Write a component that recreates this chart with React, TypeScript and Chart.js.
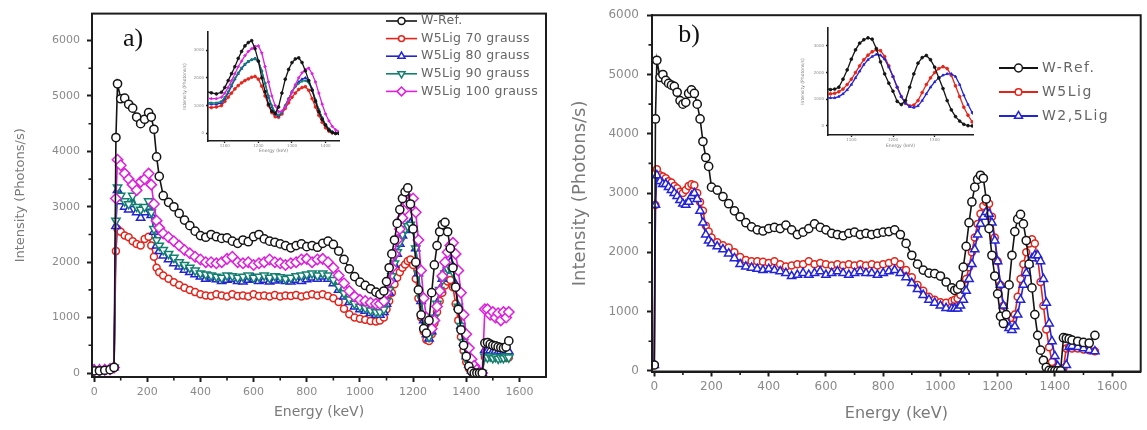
import React, { useEffect, useRef } from "react";
import { Chart, registerables } from "chart.js";
import { drawPoint } from "chart.js/helpers";

Chart.register(...registerables);

// ---------------- DATA ----------------
const X_TICKS = [0, 200, 400, 600, 800, 1000, 1200, 1400, 1600];
const X_MINOR = [100, 300, 500, 700, 900, 1100, 1300, 1500];
const Y_TICKS = [0, 1000, 2000, 3000, 4000, 5000, 6000];
const Y_MINOR = [500, 1500, 2500, 3500, 4500, 5500];
const INSET_Y_TICKS = [0, 1000, 2000, 3000];
const INSET_A_X_TICKS = [1100, 1200, 1300, 1400];
const INSET_B_X_TICKS = [1100, 1200, 1300];

const LABELS_A = ["W-Ref.", "W5Lig 70 grauss", "W5Lig 80 grauss", "W5Lig 90 grauss", "W5Lig 100 grauss"];
const LABELS_B = ["W-Ref.", "W5Lig", "W2,5Lig"];

const ENERGY_A = [0, 20, 40, 60, 75, 82, 88, 100, 115, 130, 145, 160, 175, 190, 205, 215, 225, 235, 245, 260, 280, 300, 320, 340, 360, 380, 400, 420, 440, 460, 480, 500, 520, 540, 560, 580, 600, 620, 640, 660, 680, 700, 720, 740, 760, 780, 800, 820, 840, 860, 880, 900, 920, 940, 960, 980, 1000, 1020, 1040, 1060, 1075, 1090, 1100, 1110, 1120, 1130, 1140, 1150, 1160, 1170, 1180, 1190, 1200, 1210, 1220, 1230, 1240, 1250, 1260, 1270, 1280, 1290, 1300, 1310, 1320, 1330, 1340, 1350, 1360, 1370, 1380, 1390, 1400, 1410, 1420, 1430, 1440, 1450, 1460, 1470, 1480, 1490, 1500, 1510, 1520, 1530, 1540, 1550, 1560];

const A_WREF = [40, 40, 50, 60, 100, 4250, 5220, 4950, 4960, 4850,
  4780, 4620, 4500, 4580, 4700, 4620, 4400, 3900, 3550, 3200,
  3080, 3000, 2880, 2760, 2660, 2560, 2480, 2450, 2500, 2460,
  2430, 2440, 2380, 2340, 2400, 2370, 2460, 2500, 2420, 2380,
  2360, 2330, 2300, 2260, 2300, 2330, 2280, 2300, 2270, 2340,
  2380, 2320, 2200, 2050, 1880, 1740, 1640, 1580, 1520, 1460,
  1420, 1480, 1650, 1900, 2150, 2400, 2700, 2950, 3150, 3270,
  3340, 3050, 2600, 2000, 1500, 1050, 800, 720, 950, 1450,
  1950, 2300, 2550, 2680, 2720, 2550, 2250, 1900, 1550, 1150,
  780, 500, 300, 120, 30, 0, 0, 0, 0, 540,
  550, 520, 500, 490, 470, 460, 450, 470, 580];

const A_W70 = [50, 50, 50, 60, 100, 2200, 2600, 2550, 2480, 2450,
  2380, 2330, 2300, 2420, 2460, 2300, 2100, 1900, 1820, 1760,
  1700, 1640, 1590, 1540, 1500, 1460, 1420, 1400, 1390, 1420,
  1400, 1380, 1420, 1390, 1400, 1380, 1420, 1390, 1400, 1380,
  1410, 1380, 1400, 1390, 1410, 1380, 1400, 1420, 1400, 1420,
  1390, 1350, 1280, 1160, 1060, 1000, 980, 960, 940, 930,
  950, 1000, 1150, 1300, 1450, 1600, 1720, 1820, 1900, 1960,
  2020, 2050, 1950, 1700, 1350, 1000, 750, 600, 580, 700,
  900, 1100, 1300, 1450, 1580, 1650, 1680, 1550, 1250, 950,
  650, 400, 200, 80, 20, 0, 0, 0, 0, 290,
  300, 290, 280, 290, 280, 270, 280, 270, 280];

const A_W80 = [60, 60, 60, 70, 100, 2650, 3300, 3100, 3000, 2950,
  3050, 2900, 2800, 2900, 3000, 2850, 2550, 2300, 2200, 2120,
  2050, 1980, 1920, 1860, 1820, 1780, 1740, 1700, 1720, 1690,
  1660, 1680, 1700, 1660, 1650, 1680, 1700, 1660, 1680, 1650,
  1670, 1690, 1660, 1650, 1680, 1660, 1690, 1720, 1700, 1740,
  1700, 1620, 1500, 1380, 1280, 1200, 1150, 1120, 1080, 1050,
  1050, 1100, 1250, 1450, 1700, 1950, 2150, 2330, 2480, 2580,
  2650, 2700, 2600, 2250, 1800, 1300, 950, 700, 620, 750,
  1000, 1250, 1500, 1700, 1850, 1950, 2000, 1900, 1600, 1200,
  850, 550, 300, 150, 50, 10, 0, 0, 0, 420,
  400, 410, 390, 400, 380, 390, 380, 400, 390];

const A_W90 = [60, 60, 60, 70, 100, 2750, 3350, 3200, 3100, 3050,
  3200, 3000, 2950, 3000, 3100, 2900, 2600, 2400, 2300, 2220,
  2150, 2080, 2000, 1950, 1900, 1850, 1800, 1780, 1760, 1740,
  1720, 1760, 1750, 1720, 1740, 1760, 1720, 1740, 1760, 1720,
  1750, 1730, 1700, 1720, 1750, 1760, 1780, 1800, 1760, 1800,
  1760, 1680, 1560, 1440, 1330, 1250, 1200, 1170, 1130, 1100,
  1100, 1150, 1300, 1500, 1750, 1980, 2180, 2360, 2500, 2600,
  2650, 2680, 2600, 2250, 1800, 1350, 1000, 750, 650, 760,
  1000, 1250, 1500, 1680, 1800, 1880, 1900, 1820, 1550, 1200,
  850, 560, 320, 160, 60, 10, 0, 0, 0, 300,
  280, 300, 270, 290, 260, 280, 270, 300, 280];

const A_W100 = [50, 50, 60, 70, 100, 3150, 3850, 3750, 3600, 3500,
  3400, 3300, 3450, 3500, 3600, 3400, 3050, 2750, 2620, 2520,
  2450, 2380, 2300, 2220, 2160, 2100, 2050, 2000, 2000, 1980,
  2000, 2060, 2100, 2000, 1980, 2000, 1950, 1980, 2000, 2050,
  2000, 1980, 1950, 1980, 2000, 2050, 2060, 2000, 2050, 2060,
  2000, 1900, 1760, 1620, 1480, 1380, 1320, 1300, 1270, 1250,
  1250, 1300, 1450, 1650, 1900, 2150, 2400, 2600, 2800, 2950,
  3050, 3130, 3150, 2900, 2400, 1850, 1350, 1000, 780, 800,
  950, 1200, 1480, 1750, 2000, 2180, 2300, 2350, 2150, 1850,
  1450, 1050, 700, 450, 250, 130, 60, 20, 0, 1150,
  1150, 1050, 1100, 1000, 1080, 950, 1100, 1000, 1100];

const ENERGY_B = [0, 4, 9, 20, 30, 40, 50, 60, 70, 80, 90, 100, 110, 120, 130, 140, 150, 160, 170, 180, 190, 200, 220, 240, 260, 280, 300, 320, 340, 360, 380, 400, 420, 440, 460, 480, 500, 520, 540, 560, 580, 600, 620, 640, 660, 680, 700, 720, 740, 760, 780, 800, 820, 840, 860, 880, 900, 920, 940, 960, 980, 1000, 1020, 1040, 1050, 1060, 1070, 1080, 1090, 1100, 1110, 1120, 1130, 1140, 1150, 1160, 1170, 1180, 1190, 1200, 1210, 1220, 1230, 1240, 1250, 1260, 1270, 1280, 1290, 1300, 1310, 1320, 1330, 1340, 1350, 1360, 1370, 1380, 1390, 1400, 1410, 1420, 1430, 1440, 1450, 1460, 1480, 1500, 1520, 1540];

const B_WREF = [100, 4250, 5240, 4950, 5000, 4900, 4850, 4820, 4800, 4700,
  4560, 4500, 4530, 4680, 4740, 4680, 4500, 4250, 3870, 3600,
  3450, 3100, 3050, 2940, 2820, 2700, 2600, 2500, 2430, 2380,
  2360, 2400, 2420, 2400, 2460, 2380, 2300, 2340, 2400, 2480,
  2420, 2380, 2320, 2300, 2280, 2320, 2340, 2300, 2320, 2300,
  2320, 2340, 2350, 2380, 2300, 2150, 1950, 1800, 1700, 1650,
  1640, 1600, 1500, 1400, 1360, 1380, 1450, 1750, 2100, 2500,
  2850, 3100, 3230, 3300, 3250, 2900, 2400, 1950, 1600, 1300,
  920, 800, 950, 1450, 1950, 2350, 2560, 2640, 2480, 2200,
  1800, 1400, 950, 600, 350, 180, 60, 10, 0, 0,
  0, 0, 560, 550, 540, 520, 500, 480, 470, 600];

const B_W5LIG = [100, 2800, 3400, 3300, 3280, 3250, 3200, 3180, 3120, 3080,
  3020, 3000, 3050, 3120, 3150, 3130, 3000, 2850, 2700, 2450,
  2350, 2250, 2170, 2120, 2080, 2000, 1920, 1870, 1850, 1850,
  1840, 1820, 1850, 1800, 1760, 1780, 1800, 1800, 1850, 1800,
  1820, 1800, 1780, 1800, 1780, 1800, 1780, 1800, 1780, 1800,
  1780, 1800, 1820, 1850, 1800, 1700, 1580, 1450, 1350, 1250,
  1200, 1160, 1150, 1180, 1200, 1220, 1280, 1380, 1550, 1750,
  2000, 2250, 2480, 2650, 2780, 2850, 2820, 2600, 2250, 1850,
  1450, 1100, 850, 750, 780, 950, 1250, 1550, 1800, 2000,
  2150, 2220, 2150, 1900, 1500, 1100, 700, 400, 150, 30,
  0, 0, 50, 380, 400, 380, 380, 360, 350, 330];

const B_W25LIG = [100, 2800, 3300, 3200, 3150, 3150, 3100, 3050, 3000, 2950,
  2880, 2820, 2800, 2850, 2950, 3000, 2900, 2700, 2500, 2300,
  2200, 2150, 2100, 2050, 1980, 1900, 1800, 1760, 1740, 1720,
  1700, 1720, 1700, 1680, 1650, 1600, 1620, 1650, 1620, 1650,
  1680, 1620, 1650, 1680, 1650, 1620, 1650, 1680, 1650, 1650,
  1620, 1650, 1680, 1700, 1650, 1580, 1480, 1380, 1280, 1200,
  1150, 1100, 1060, 1050, 1050, 1050, 1100, 1200, 1350, 1550,
  1800, 2050, 2300, 2480, 2600, 2680, 2650, 2500, 2200, 1850,
  1450, 1100, 850, 720, 690, 750, 950, 1200, 1450, 1650,
  1800, 1900, 1950, 1950, 1850, 1550, 1150, 800, 500, 250,
  80, 0, 0, 100, 400, 420, 400, 380, 350, 330];

// ---------------- STYLES ----------------
const FONT = "'DejaVu Sans', 'Liberation Sans', sans-serif";
const AXIS = "#1c1c1c";
const TICK_TXT = "#8a8a8a";
const TITLE_TXT = "#7a7a7a";

const STYLE_A = [
  { color: "#141414", shape: "circle", rotation: 0, radius: 4.1, order: 0 },
  { color: "#e3241b", shape: "circle", rotation: 0, radius: 3.5, order: 4 },
  { color: "#2323d2", shape: "triangle", rotation: 0, radius: 4.8, order: 3 },
  { color: "#12806f", shape: "triangle", rotation: 180, radius: 4.8, order: 2 },
  { color: "#de1fdc", shape: "rectRot", rotation: 0, radius: 5.2, order: 1 },
];
const STYLE_B = [
  { color: "#141414", shape: "circle", rotation: 0, radius: 4.1, order: 0 },
  { color: "#e3241b", shape: "circle", rotation: 0, radius: 3.5, order: 2 },
  { color: "#2323d8", shape: "triangle", rotation: 0, radius: 4.8, order: 1 },
];

function makeDatasets(energy: number[], series: number[][], labels: string[], styles: any[], inset: boolean) {
  return series.map((ys, k) => {
    const s = styles[k];
    return {
      label: labels[k],
      data: energy.map((x, i) => ({ x, y: ys[i] })),
      borderColor: s.color,
      backgroundColor: s.color,
      borderWidth: inset ? 1.3 : 1.6,
      pointStyle: s.shape,
      pointRotation: s.rotation,
      pointRadius: inset ? 1.4 : s.radius,
      pointBorderWidth: inset ? 0.8 : 1.5,
      pointBorderColor: s.color,
      pointBackgroundColor: inset ? s.color : "#ffffff",
      order: s.order,
      tension: 0,
    };
  });
}

// ---------------- PLUGINS ----------------
const framePlugin = {
  id: "frame",
  afterDraw(chart: any, _a: any, o: any) {
    if (!o || !o.show) return;
    const { ctx, chartArea: a } = chart;
    ctx.save();
    ctx.strokeStyle = AXIS;
    ctx.lineWidth = 2;
    ctx.strokeRect(a.left, a.top, a.right - a.left, a.bottom - a.top);
    ctx.restore();
  },
};

const minorTicksPlugin = {
  id: "minorTicks",
  afterDraw(chart: any, _a: any, o: any) {
    if (!o || !o.show) return;
    const { ctx, chartArea: a } = chart;
    const xs = chart.scales.x;
    const ys = chart.scales.y;
    ctx.save();
    ctx.strokeStyle = AXIS;
    ctx.lineWidth = 1.6;
    ctx.beginPath();
    X_MINOR.forEach((v) => {
      const p = xs.getPixelForValue(v);
      ctx.moveTo(p, a.bottom);
      ctx.lineTo(p, a.bottom + 3.5);
    });
    Y_MINOR.forEach((v) => {
      const p = ys.getPixelForValue(v);
      if (p < a.top || p > a.bottom) return;
      ctx.moveTo(a.left, p);
      ctx.lineTo(a.left - 3.5, p);
    });
    ctx.stroke();
    ctx.restore();
  },
};

const legendPlugin = {
  id: "originLegend",
  afterDraw(chart: any, _a: any, o: any) {
    if (!o || !o.show) return;
    const ctx = chart.ctx;
    ctx.save();
    chart.data.datasets.forEach((ds: any, i: number) => {
      const y = o.y + i * o.dy;
      ctx.strokeStyle = ds.borderColor;
      ctx.lineWidth = o.lineWidth;
      ctx.beginPath();
      ctx.moveTo(o.x, y);
      ctx.lineTo(o.x + o.len, y);
      ctx.stroke();
      ctx.fillStyle = "#ffffff";
      ctx.strokeStyle = ds.borderColor;
      ctx.lineWidth = 1.5;
      drawPoint(ctx, { pointStyle: ds.pointStyle, rotation: ds.pointRotation, radius: ds.pointRadius * o.scale, borderWidth: 1.5 } as any, o.x + o.len / 2, y);
      ctx.fillStyle = o.color;
      ctx.font = o.font;
      ctx.textAlign = "left";
      ctx.textBaseline = "middle";
      (ctx as any).letterSpacing = o.spacing;
      ctx.fillText(ds.label, o.x + o.len + o.gap, y);
      (ctx as any).letterSpacing = "0px";
    });
    ctx.restore();
  },
};

const panelLabelPlugin = {
  id: "panelLabel",
  afterDraw(chart: any, _a: any, o: any) {
    if (!o || !o.text) return;
    const ctx = chart.ctx;
    ctx.save();
    ctx.font = o.font;
    ctx.fillStyle = "#111";
    ctx.textAlign = "center";
    ctx.textBaseline = "middle";
    ctx.fillText(o.text, o.x, o.y);
    ctx.restore();
  },
};

// ---------------- CONFIG BUILDERS ----------------
function mainConfig(p: any) {
  return {
    type: "line",
    data: { datasets: p.datasets },
    options: {
      animation: false,
      responsive: false,
      maintainAspectRatio: false,
      events: [],
      layout: { padding: { left: 0, top: p.padTop, right: p.padRight, bottom: 0 } },
      plugins: {
        legend: { display: false },
        tooltip: { enabled: false },
        frame: { show: true },
        minorTicks: { show: true },
        originLegend: p.legend,
        panelLabel: p.label,
      },
      scales: {
        x: {
          type: "linear",
          min: p.xMin,
          max: p.xMax,
          afterBuildTicks: (s: any) => { s.ticks = X_TICKS.map((v) => ({ value: v })); },
          afterFit: (s: any) => { s.height = p.xAxisH; },
          ticks: { color: TICK_TXT, font: { family: FONT, size: p.tickSize }, padding: p.xTickPad, maxRotation: 0, autoSkip: false, callback: (v: any) => String(v) },
          grid: { drawOnChartArea: false, drawTicks: true, tickLength: 5, tickWidth: 2, tickColor: AXIS },
          border: { display: true, color: AXIS, width: 2 },
          title: { display: true, text: "Energy (keV)", color: TITLE_TXT, font: { family: FONT, size: p.xTitleSize }, padding: { top: 0, bottom: p.xTitlePad } },
        },
        y: {
          type: "linear",
          min: p.yMin,
          max: p.yMax,
          afterBuildTicks: (s: any) => { s.ticks = Y_TICKS.map((v) => ({ value: v })); },
          afterFit: (s: any) => { s.width = p.yAxisW; },
          ticks: { color: TICK_TXT, font: { family: FONT, size: p.tickSize }, padding: p.yTickPad, autoSkip: false, callback: (v: any) => String(v) },
          grid: { drawOnChartArea: false, drawTicks: true, tickLength: 5, tickWidth: 2, tickColor: AXIS },
          border: { display: true, color: AXIS, width: 2 },
          title: { display: true, text: "Intensity (Photons/s)", color: TITLE_TXT, font: { family: FONT, size: p.yTitleSize }, padding: { top: p.yTitlePad, bottom: 0 } },
        },
      },
    },
    plugins: [framePlugin, minorTicksPlugin, legendPlugin, panelLabelPlugin],
  };
}

function insetConfig(p: any) {
  return {
    type: "line",
    data: { datasets: p.datasets },
    options: {
      animation: false,
      responsive: false,
      maintainAspectRatio: false,
      events: [],
      layout: { padding: { left: 0, top: p.padTop, right: p.padRight, bottom: 0 } },
      plugins: { legend: { display: false }, tooltip: { enabled: false } },
      scales: {
        x: {
          type: "linear",
          min: p.xMin,
          max: p.xMax,
          afterBuildTicks: (s: any) => { s.ticks = p.xTicks.map((v: number) => ({ value: v })); },
          afterFit: (s: any) => { s.height = p.xAxisH; },
          ticks: { color: TICK_TXT, font: { family: FONT, size: 4 }, padding: 1, maxRotation: 0, autoSkip: false, callback: (v: any) => String(v) },
          grid: { drawOnChartArea: false, drawTicks: true, tickLength: 2, tickWidth: 1.3, tickColor: AXIS },
          border: { display: true, color: AXIS, width: 1.6 },
          title: { display: true, text: "Energy (keV)", color: TITLE_TXT, font: { family: FONT, size: 4.5 }, padding: { top: 0, bottom: p.xTitlePad } },
        },
        y: {
          type: "linear",
          min: p.yMin,
          max: p.yMax,
          afterBuildTicks: (s: any) => { s.ticks = INSET_Y_TICKS.map((v) => ({ value: v })); },
          afterFit: (s: any) => { s.width = p.yAxisW; },
          ticks: { color: TICK_TXT, font: { family: FONT, size: 4 }, padding: 2, autoSkip: false, callback: (v: any) => String(v) },
          grid: { drawOnChartArea: false, drawTicks: true, tickLength: 2, tickWidth: 1.3, tickColor: AXIS },
          border: { display: true, color: AXIS, width: 1.6 },
          title: { display: true, text: "Intensity (Photons/s)", color: TITLE_TXT, font: { family: FONT, size: 4.5 }, padding: { top: p.yTitlePad, bottom: 0 } },
        },
      },
    },
  };
}

// ---------------- COMPONENTS ----------------
function ChartCanvas(props: { make: () => any; left: number; top: number; width: number; height: number }) {
  const ref = useRef<HTMLCanvasElement | null>(null);
  useEffect(() => {
    const chart = new Chart(ref.current as HTMLCanvasElement, props.make());
    return () => chart.destroy();
  }, []);
  return (
    <canvas
      ref={ref}
      width={props.width}
      height={props.height}
      style={{ position: "absolute", left: props.left, top: props.top, width: props.width, height: props.height }}
    />
  );
}

const SERIES_A = [A_WREF, A_W70, A_W80, A_W90, A_W100];
const SERIES_B = [B_WREF, B_W5LIG, B_W25LIG];

export default function App() {
  const makeA = () =>
    mainConfig({
      datasets: makeDatasets(ENERGY_A, SERIES_A, LABELS_A, STYLE_A, false),
      padTop: 11, padRight: 24, yAxisW: 92, xAxisH: 53,
      xMin: -8, xMax: 1700, yMin: -72, yMax: 6487,
      tickSize: 11, xTickPad: 4, yTickPad: 7,
      xTitleSize: 14, xTitlePad: 9, yTitleSize: 13, yTitlePad: 13,
      legend: { show: true, x: 386, y: 21, dy: 17.6, len: 31, gap: 4, lineWidth: 1.6, scale: 0.85, font: `12.5px ${FONT}`, color: "#666", spacing: "0.3px" },
      label: { text: "a)", x: 133, y: 39, font: "26px 'Liberation Serif', 'DejaVu Serif', serif" },
    });
  const makeB = () =>
    mainConfig({
      datasets: makeDatasets(ENERGY_B, SERIES_B, LABELS_B, STYLE_B, false),
      padTop: 13, padRight: 5, yAxisW: 82, xAxisH: 58.5,
      xMin: -8, xMax: 1700, yMin: -10, yMax: 6000,
      tickSize: 12, xTickPad: 3, yTickPad: 8,
      xTitleSize: 16, xTitlePad: 7, yTitleSize: 18, yTitlePad: 0,
      legend: { show: true, x: 429, y: 68, dy: 24, len: 39, gap: 4, lineWidth: 1.8, scale: 0.95, font: `14px ${FONT}`, color: "#666", spacing: "1.5px" },
      label: { text: "b)", x: 119, y: 35, font: "26px 'Liberation Serif', 'DejaVu Serif', serif" },
    });
  const makeInsetA = () =>
    insetConfig({
      datasets: makeDatasets(ENERGY_A, SERIES_A, LABELS_A, STYLE_A, true),
      padTop: 7, padRight: 11, yAxisW: 28, xAxisH: 19,
      xMin: 1050, xMax: 1440, yMin: -274, yMax: 3650, xTicks: INSET_A_X_TICKS,
      xTitlePad: 6.5, yTitlePad: 2.6,
    });
  const makeInsetB = () =>
    insetConfig({
      datasets: makeDatasets(ENERGY_B, SERIES_B, LABELS_B, STYLE_B, true),
      padTop: 8, padRight: 12, yAxisW: 33, xAxisH: 20,
      xMin: 1044, xMax: 1392, yMin: -340, yMax: 3670, xTicks: INSET_B_X_TICKS,
      xTitlePad: 6.5, yTitlePad: 5.6,
    });

  return (
    <div style={{ position: "absolute", left: 0, top: 0, width: 1147, height: 430, background: "#ffffff", overflow: "hidden" }}>
      <ChartCanvas make={makeA} left={0} top={0} width={570} height={430} />
      <ChartCanvas make={makeB} left={570} top={0} width={577} height={430} />
      <ChartCanvas make={makeInsetA} left={180} top={25} width={170} height={135} />
      <ChartCanvas make={makeInsetB} left={795} top={20} width={190} height={135} />
    </div>
  );
}
